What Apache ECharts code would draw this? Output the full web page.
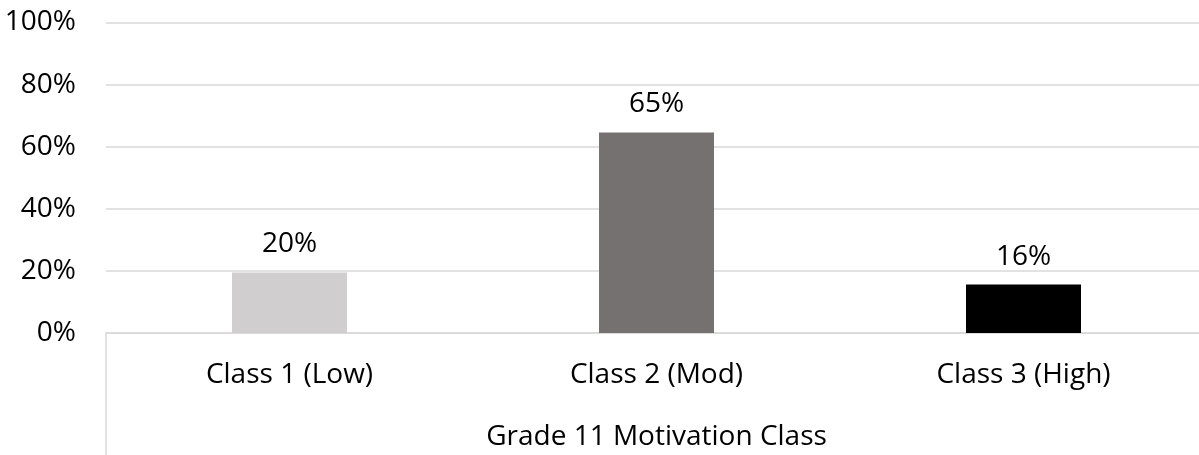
<!DOCTYPE html>
<html>
<head>
<meta charset="utf-8">
<script src="https://cdn.jsdelivr.net/npm/echarts@6/dist/echarts.min.js"></script>
<style>
html,body{margin:0;padding:0;background:#fff;}
#chart{width:1199px;height:455px;}
</style>
</head>
<body>
<div id="chart"></div>
<script>
const categories = ['Class 1 (Low)', 'Class 2 (Mod)', 'Class 3 (High)'];
const values = [19.5, 64.6, 15.6];
const barColors = ['#d0cece', '#767171', '#000000'];
const axisTitle = 'Grade 11 Motivation Class';

const FONT = 'Open Sans';
const FS = 28;
const GRID_COLOR = '#d9d9d9';

const chart = echarts.init(document.getElementById('chart'), null, {renderer: 'canvas'});
chart.setOption({
  animation: false,
  backgroundColor: '#ffffff',
  textStyle: {fontFamily: FONT, color: '#000'},
  grid: [
    {left: 106, right: -8, top: 22.5, bottom: 122, containLabel: false, outerBoundsMode: 'none'},
    {left: 106, width: 10, top: 333, bottom: 0, containLabel: false, outerBoundsMode: 'none'}
  ],
  xAxis: [
    {
      type: 'category',
      gridIndex: 0,
      data: categories,
      axisLine: {show: true, lineStyle: {color: GRID_COLOR, width: 1.5}},
      axisTick: {show: false},
      axisLabel: {fontFamily: FONT, fontSize: FS, color: '#000', margin: 28},
      name: axisTitle,
      nameLocation: 'middle',
      nameGap: 90,
      nameTextStyle: {fontFamily: FONT, fontSize: FS, color: '#000', verticalAlign: 'top'}
    },
    {
      type: 'category', gridIndex: 1, data: [''], show: false
    }
  ],
  yAxis: [
    {
      type: 'value',
      gridIndex: 0,
      min: 0, max: 100, interval: 20,
      axisLine: {show: false},
      axisTick: {show: false},
      axisLabel: {formatter: '{value}%', fontFamily: FONT, fontSize: FS, color: '#000', margin: 30},
      splitLine: {show: true, lineStyle: {color: GRID_COLOR, width: 1.5}}
    },
    {
      type: 'value', gridIndex: 1, min: 0, max: 1,
      axisLine: {show: true, lineStyle: {color: GRID_COLOR, width: 1.5}},
      axisTick: {show: false}, axisLabel: {show: false}, splitLine: {show: false}
    }
  ],
  series: [
    {
      type: 'bar',
      xAxisIndex: 0, yAxisIndex: 0,
      barWidth: 115,
      data: values.map((v, i) => ({value: v, itemStyle: {color: barColors[i]}})),
      label: {
        show: true,
        position: 'top',
        distance: 14,
        fontFamily: FONT,
        fontSize: FS,
        color: '#000',
        formatter: p => Math.round(p.value) + '%'
      }
    }
  ]
});
</script>
</body>
</html>
